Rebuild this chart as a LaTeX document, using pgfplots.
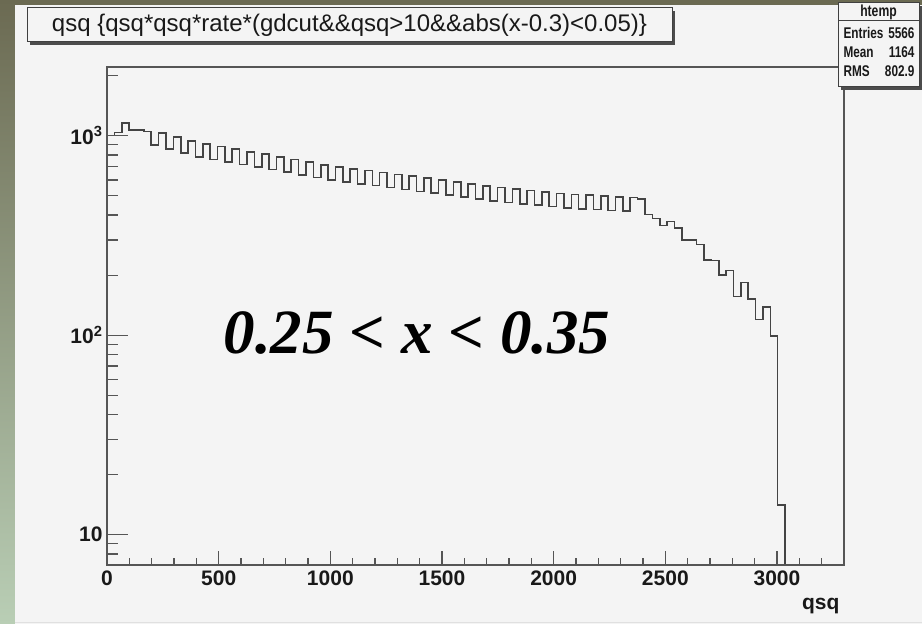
\documentclass[border=0pt]{standalone}
\usepackage{fontspec}
\setmainfont{Liberation Sans}
\newfontfamily\timesfont{Liberation Serif}
\newfontfamily\narrowsans[FakeStretch=0.76]{Liberation Sans}
\usepackage{pgfplots}
\pgfplotsset{compat=1.18}
\definecolor{slidedark}{HTML}{6B6A52}
\definecolor{slidelight}{HTML}{B9CEB5}
\definecolor{canvasgray}{HTML}{F4F4F4}
\definecolor{framegray}{HTML}{555555}
\definecolor{histgray}{HTML}{444444}
\begin{document}
\begin{tikzpicture}[x=1pt,y=1pt]
\useasboundingbox (0,0) rectangle (922,624);
\fill[slidedark] (0,0) rectangle (922,624);
\shade[top color=slidedark, bottom color=slidelight] (0,0) rectangle (15,624);
\fill[canvasgray] (15,0) rectangle (922,619);
\draw[black!12, line width=1pt] (15,1.5) -- (922,1.5);
% histogram axis (x ticks)
\begin{axis}[
  at={(107pt,59pt)}, anchor=south west,
  width=737pt, height=498pt, scale only axis,
  xmin=0, xmax=3300, ymode=log, ymin=7.05, ymax=2210,
  axis line style={framegray, line width=1.4pt},
  tick align=inside, xtick pos=bottom,
  xtick={0,500,...,3000},
  minor xtick={100,200,...,3200},
  ytick=\empty,
  major tick length=14pt, minor tick length=7pt,
  tick style={framegray, line width=1.3pt},
  xticklabel style={font=\bfseries\fontsize{21}{21}\selectfont, text=black!90, yshift=-2pt},
  /pgf/number format/assume math mode=true,
  /pgf/number format/set thousands separator={},
  clip=true,
  axis background/.style={fill=canvasgray},
]
\addplot[const plot mark left, histgray, line width=1.6pt] coordinates {
(0,1000) (33,1040) (66,1158) (99,1065) (132,1065) (165,1050)
(198,901) (231,1035) (264,860) (297,988) (330,821) (363,943)
(396,784) (429,908) (462,761) (495,881) (528,739) (561,856)
(594,717) (627,831) (660,697) (693,807) (726,676) (759,783)
(792,656) (825,760) (858,637) (891,737) (924,618) (957,715)
(990,599) (1023,697) (1056,586) (1089,683) (1122,574) (1155,668)
(1188,562) (1221,654) (1254,550) (1287,640) (1320,538) (1353,627)
(1386,526) (1419,612) (1452,515) (1485,598) (1518,503) (1551,585)
(1584,492) (1617,572) (1650,481) (1683,559) (1716,470) (1749,549)
(1782,463) (1815,540) (1848,455) (1881,531) (1914,448) (1947,522)
(1980,441) (2013,514) (2046,433) (2079,507) (2112,430) (2145,503)
(2178,426) (2211,499) (2244,421) (2277,493) (2310,418) (2343,489)
(2376,480) (2409,402) (2442,385) (2475,354) (2508,372) (2541,344)
(2574,301) (2607,301) (2640,285) (2673,239) (2706,237) (2739,201)
(2772,211) (2805,156) (2838,184) (2871,152) (2904,120) (2937,138)
(2970,99) (3003,14.1) (3036,14.1) (3036,5)
};
\end{axis}
% y ticks axis overlay
\begin{axis}[
  at={(107pt,59pt)}, anchor=south west,
  width=737pt, height=498pt, scale only axis,
  xmin=0, xmax=3300, ymode=log, ymin=7.05, ymax=2210,
  axis line style={framegray, line width=1.4pt},
  tick align=inside, ytick pos=left,
  xtick=\empty,
  ytick={10,100,1000},
  yticklabels={10, 10\textsuperscript{2}, 10\textsuperscript{3}},
  minor ytick={8,9,20,30,40,50,60,70,80,90,200,300,400,500,600,700,800,900,2000},
  major tick length=21pt, minor tick length=11pt,
  tick style={framegray, line width=1.3pt},
  yticklabel style={font=\bfseries\fontsize{21}{21}\selectfont, text=black!90, xshift=-1pt},
]
\end{axis}
% big annotation
\node[font=\timesfont\bfseries\itshape\fontsize{63}{63}\selectfont, text=black] at (417,291) {0.25 < x < 0.35};
% x axis title
\node[anchor=base east, font=\bfseries\fontsize{21}{21}\selectfont, text=black!90] at (843,14) {qsq};
% title box
\fill[black!70] (30,579) rectangle (675,613);
\filldraw[fill=canvasgray, draw=black!75, line width=1pt] (27,582) rectangle (672,616);
\node[font=\fontsize{24}{24}\selectfont, text=black!90] at (349.5,599) {qsq \{qsq*qsq*rate*(gdcut\&\&qsq>10\&\&abs(x-0.3)<0.05)\}};
% stats box
\fill[black!70] (841,534) rectangle (922,618);
\filldraw[fill=canvasgray, draw=black!75, line width=1pt] (838,537) rectangle (919,621);
\draw[black!75, line width=1pt] (838,603) -- (919,603);
\node[font=\narrowsans\bfseries\fontsize{16}{16}\selectfont, text=black!90] at (878.5,612) {htemp};
\node[anchor=base west, font=\narrowsans\bfseries\fontsize{15.5}{15.5}\selectfont, text=black!90] at (840,585) {Entries};
\node[anchor=base east, font=\narrowsans\bfseries\fontsize{15.5}{15.5}\selectfont, text=black!90] at (918,585) {5566};
\node[anchor=base west, font=\narrowsans\bfseries\fontsize{15.5}{15.5}\selectfont, text=black!90] at (840,566) {Mean};
\node[anchor=base east, font=\narrowsans\bfseries\fontsize{15.5}{15.5}\selectfont, text=black!90] at (918,566) {1164};
\node[anchor=base west, font=\narrowsans\bfseries\fontsize{15.5}{15.5}\selectfont, text=black!90] at (840,547) {RMS};
\node[anchor=base east, font=\narrowsans\bfseries\fontsize{15.5}{15.5}\selectfont, text=black!90] at (918,547) {802.9};
\end{tikzpicture}
\end{document}
